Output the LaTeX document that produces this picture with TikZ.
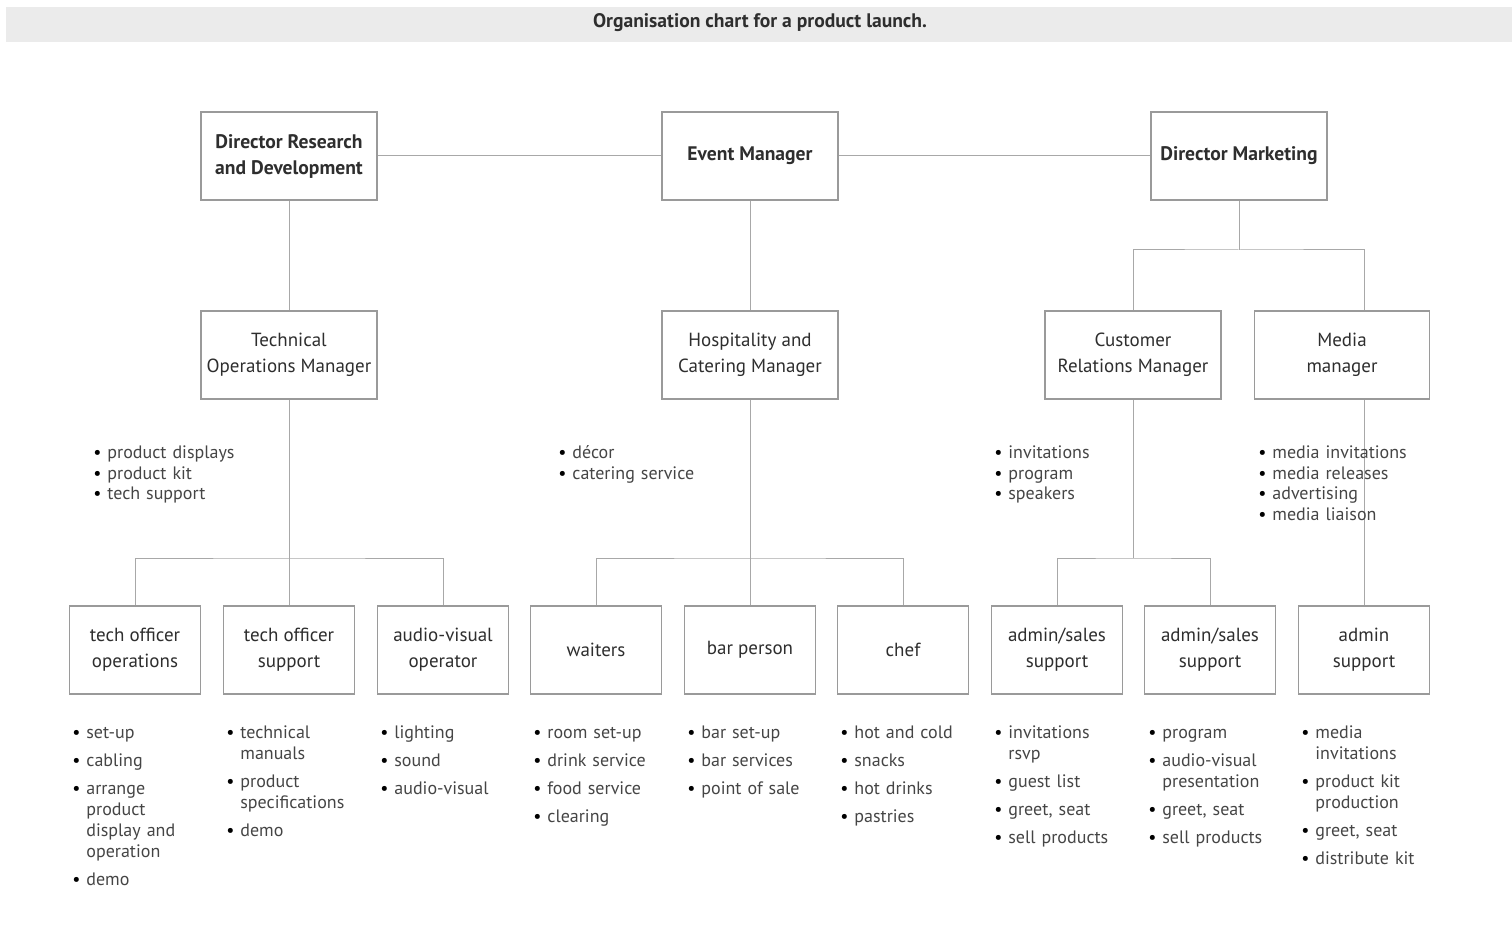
\documentclass[tikz,border=0pt]{standalone}
\usepackage{fontspec}
\setmainfont{PT Sans}
\usetikzlibrary{calc}

\definecolor{boxline}{HTML}{9A9A9A}
\definecolor{connc}{HTML}{A8A8A8}
\definecolor{ink}{HTML}{2E2E2E}
\definecolor{listink}{HTML}{454545}
\definecolor{titlebar}{HTML}{EBEBEB}

\newcommand\titlefont{\fontsize{9.8}{11}\selectfont\bfseries}
\newcommand\topfont{\fontsize{9.8}{13}\selectfont\bfseries}
\newcommand\midfont{\fontsize{9.5}{13}\selectfont}
\newcommand\lstfont{\fontsize{9}{10.5}\selectfont}
% one bulleted entry with a hanging indent
\newcommand\itm[1]{\par\noindent\hangindent=7pt\hangafter=1\makebox[7pt][l]{\textcolor{black}{\textbullet}}#1}

\begin{document}
\begin{tikzpicture}[x=0.5pt,y=-0.5pt,
  box/.style={draw=boxline, line width=0.7pt, fill=white, minimum width=88pt,
              minimum height=44pt, inner sep=0pt, text=ink, align=center},
  topbox/.style={box, font=\topfont},
  midbox/.style={box, font=\midfont},
  lowbox/.style={box, minimum width=65.5pt, font=\midfont},
  conn/.style={draw=connc, line width=0.5pt},
  lst/.style={anchor=base west, inner sep=0pt, text width=110pt, font=\lstfont, text=listink},
  lowlst/.style={lst, execute at begin node={\setlength\parskip{3.5pt}}}]

\useasboundingbox (0,0) rectangle (1512,947);

% title bar
\fill[titlebar] (6,7) rectangle (1512,42);
\node[font=\titlefont, text=ink] (title) at (760,23) {Organisation chart for a product launch.};

% top level
\node[topbox] (rd) at (289,156) {Director Research\\and Development};
\node[topbox] (em) at (750,156) {Event Manager};
\node[topbox] (dm) at (1239,156) {Director Marketing};

% managers
\node[midbox] (tom) at (289,355) {Technical\\Operations Manager};
\node[midbox] (hcm) at (750,355) {Hospitality and\\Catering Manager};
\node[midbox] (crm) at (1133,355) {Customer\\Relations Manager};
\node[midbox, minimum width=87.5pt] (media) at (1342,355) {Media\\manager};

% staff
\node[lowbox] (too) at (135,650) {tech officer\\operations};
\node[lowbox] (tos) at (289,650) {tech officer\\support};
\node[lowbox] (avo) at (443,650) {audio-visual\\operator};
\node[lowbox] (wai) at (596,650) {waiters};
\node[lowbox] (bar) at (750,650) {bar person};
\node[lowbox] (chef) at (903,650) {chef};
\node[lowbox] (as1) at (1057,650) {admin/sales\\support};
\node[lowbox] (as2) at (1210,650) {admin/sales\\support};
\node[lowbox] (adm) at (1364,650) {admin\\support};

% junction points
\coordinate (jd) at (1239,250);
\coordinate (jt) at (289,558);
\coordinate (jh) at (750,558);
\coordinate (jc) at (1133,558);

% connectors
\draw[conn] (rd) -- (em) (em) -- (dm);
\draw[conn] (rd) -- (tom);
\draw[conn] (em) -- (hcm);
\draw[conn] (dm) -- (jd);
\draw[conn] (crm) |- (jd) -| (media.north -| adm.north);
\draw[conn] (media.south -| adm.north) -- (adm);

\draw[conn] (tom) -- (jt);
\draw[conn] (too) |- (jt) -| (avo);
\draw[conn] (jt) -- (tos);

\draw[conn] (hcm) -- (jh);
\draw[conn] (wai) |- (jh) -| (chef);
\draw[conn] (jh) -- (bar);

\draw[conn] (crm) -- (jc);
\draw[conn] (as1) |- (jc) -| (as2);

% duties of the managers
\node[lst] (ltom) at (93,437) {\itm{product displays}\itm{product kit}\itm{tech support}};
\node[lst] (lhcm) at (558,437) {\itm{décor}\itm{catering service}};
\node[lst] (lcrm) at (994,437) {\itm{invitations}\itm{program}\itm{speakers}};
\node[lst] (lmed) at (1258,437) {\itm{media invitations}\itm{media releases}\itm{advertising}\itm{media liaison}};

% duties of the staff
\node[lowlst] (ltoo) at (72,710) {\itm{set-up}\itm{cabling}\itm{arrange\newline product\newline display and\newline operation}\itm{demo}};
\node[lowlst] (ltos) at (226,710) {\itm{technical\newline manuals}\itm{product\newline specifications}\itm{demo}};
\node[lowlst] (lavo) at (380,710) {\itm{lighting}\itm{sound}\itm{audio-visual}};
\node[lowlst] (lwai) at (533,710) {\itm{room set-up}\itm{drink service}\itm{food service}\itm{clearing}};
\node[lowlst] (lbar) at (687,710) {\itm{bar set-up}\itm{bar services}\itm{point of sale}};
\node[lowlst] (lchef) at (840,710) {\itm{hot and cold}\itm{snacks}\itm{hot drinks}\itm{pastries}};
\node[lowlst] (las1) at (994,710) {\itm{invitations\newline rsvp}\itm{guest list}\itm{greet, seat}\itm{sell products}};
\node[lowlst] (las2) at (1148,710) {\itm{program}\itm{audio-visual\newline presentation}\itm{greet, seat}\itm{sell products}};
\node[lowlst] (ladm) at (1301,710) {\itm{media\newline invitations}\itm{product kit\newline production}\itm{greet, seat}\itm{distribute kit}};
\end{tikzpicture}
\end{document}
